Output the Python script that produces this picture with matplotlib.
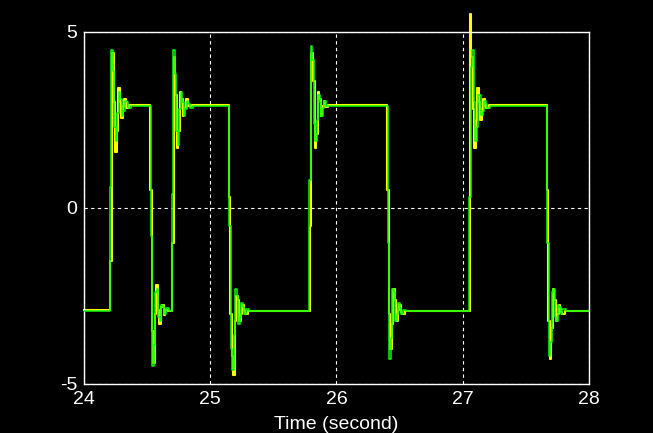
import matplotlib
matplotlib.use("Agg")
import matplotlib.pyplot as plt

plt.rcParams['font.family'] = ['Liberation Sans', 'DejaVu Sans']

# ---- data ----
green_t = [24.000,
           24.205, 24.217, 24.229, 24.241, 24.253, 24.265, 24.277, 24.289, 24.301, 24.313, 24.325, 24.337, 24.349, 24.373,
           24.528, 24.540, 24.552, 24.564, 24.576, 24.588, 24.600, 24.612, 24.624, 24.636, 24.648, 24.672,
           24.695, 24.707, 24.719, 24.731, 24.743, 24.755, 24.767, 24.779, 24.791, 24.803, 24.815, 24.827, 24.839, 24.863,
           25.150, 25.162, 25.174, 25.186, 25.198, 25.210, 25.222, 25.234, 25.246, 25.258, 25.270, 25.282, 25.306,
           25.785, 25.797, 25.809, 25.821, 25.833, 25.845, 25.857, 25.869, 25.881, 25.893, 25.905, 25.917, 25.941,
           26.405, 26.417, 26.429, 26.441, 26.453, 26.465, 26.477, 26.489, 26.501, 26.513, 26.525, 26.549,
           27.050, 27.062, 27.074, 27.086, 27.098, 27.110, 27.122, 27.134, 27.146, 27.158, 27.170, 27.182, 27.194, 27.218,
           27.670, 27.682, 27.694, 27.706, 27.718, 27.730, 27.742, 27.754, 27.766, 27.778, 27.790, 27.814,
           28.000]
green_y = [-2.93,
           0.6, 4.5, 3.9, 2.3, 1.9, 2.7, 3.3, 3.1, 2.6, 2.75, 3.05, 3.0, 2.85, 2.9,
           -0.8, -4.5, -3.9, -2.4, -2.3, -3.1, -3.2, -2.75, -2.8, -3.0, -2.85, -2.93,
           0.4, 4.5, 3.8, 2.2, 1.8, 2.8, 3.3, 3.0, 2.6, 2.8, 3.05, 2.95, 2.85, 2.9,
           -0.5, -4.0, -4.6, -3.6, -2.3, -2.5, -3.3, -3.1, -2.7, -2.8, -3.0, -2.88, -2.93,
           0.8, 4.6, 4.2, 2.4, 1.9, 2.5, 3.2, 3.0, 2.6, 2.85, 3.05, 2.9, 2.9,
           -1.0, -4.3, -3.7, -2.3, -2.4, -3.2, -3.0, -2.7, -2.85, -3.0, -2.9, -2.93,
           0.3, 4.0, 4.5, 3.0, 1.9, 2.3, 3.2, 3.2, 2.65, 2.75, 3.05, 2.95, 2.85, 2.9,
           -1.0, -4.2, -3.8, -2.4, -2.3, -3.1, -3.2, -2.75, -2.8, -3.0, -2.88, -2.93,
           -2.93]

yellow_t = [24.000,
            24.210, 24.222, 24.234, 24.246, 24.258, 24.270, 24.282, 24.294, 24.306, 24.318, 24.330, 24.354,
            24.524, 24.536, 24.548, 24.560, 24.572, 24.584, 24.596, 24.608, 24.620, 24.632, 24.644, 24.668,
            24.700, 24.712, 24.724, 24.736, 24.748, 24.760, 24.772, 24.784, 24.796, 24.808, 24.820, 24.844,
            25.146, 25.158, 25.170, 25.182, 25.194, 25.206, 25.218, 25.230, 25.242, 25.254, 25.266, 25.278, 25.302,
            25.790, 25.802, 25.814, 25.826, 25.838, 25.850, 25.862, 25.874, 25.886, 25.898, 25.910, 25.934,
            26.401, 26.413, 26.425, 26.437, 26.449, 26.461, 26.473, 26.485, 26.497, 26.509, 26.521, 26.545,
            27.055, 27.067, 27.079, 27.091, 27.103, 27.115, 27.127, 27.139, 27.151, 27.163, 27.175, 27.187, 27.211,
            27.666, 27.678, 27.690, 27.702, 27.714, 27.726, 27.738, 27.750, 27.762, 27.774, 27.786, 27.810,
            28.000]
yellow_y = [-2.9,
            -1.5, 4.4, 3.0, 1.6, 2.2, 3.4, 3.0, 2.55, 2.9, 3.1, 2.85, 2.92,
            0.5, -3.5, -4.4, -3.0, -2.2, -2.9, -3.3, -2.8, -2.75, -3.05, -2.9, -2.92,
            -1.0, 4.3, 3.2, 1.7, 2.2, 3.3, 3.1, 2.6, 2.85, 3.1, 2.9, 2.92,
            0.3, -3.0, -4.2, -4.75, -3.2, -2.5, -2.6, -3.2, -3.0, -2.75, -2.9, -3.0, -2.92,
            -0.5, 4.4, 3.6, 1.7, 2.1, 3.3, 3.1, 2.6, 2.9, 3.05, 2.88, 2.92,
            0.5, -3.0, -4.0, -3.3, -2.3, -2.6, -3.2, -2.9, -2.75, -2.95, -3.0, -2.92,
            5.5, 4.3, 2.8, 1.7, 2.5, 3.4, 3.0, 2.5, 2.8, 3.1, 2.9, 2.85, 2.92,
            0.5, -3.2, -4.3, -3.4, -2.3, -2.6, -3.2, -3.0, -2.75, -2.95, -3.0, -2.92,
            -2.92]

x_ticks = [24, 25, 26, 27, 28]
y_ticks = [-5, 0, 5]
x_label = "Time (second)"

# ---- figure ----
fig = plt.figure(figsize=(6.53, 4.33), dpi=100, facecolor='black')
ax = fig.add_axes([0.1286, 0.1132, 0.7734, 0.8129], facecolor='black')

ax.plot(yellow_t, yellow_y, color='#ffff00', lw=1.5, drawstyle='steps-post',
        clip_on=False, zorder=2)
ax.plot(green_t, green_y, color='#00ff00', lw=1.1, drawstyle='steps-post', zorder=3)

ax.set_xlim(24, 28)
ax.set_ylim(-5, 5)
ax.set_xticks(x_ticks)
ax.set_yticks(y_ticks)
ax.set_xticklabels([str(v) for v in x_ticks])
ax.set_yticklabels([str(v) for v in y_ticks])

for s in ax.spines.values():
    s.set_color('white')
    s.set_linewidth(1.0)

ax.tick_params(colors='white', labelsize=14, length=0, pad=5)
ax.grid(True, color='white', linestyle=(0, (3, 3)), linewidth=0.8)
ax.set_axisbelow(True)
ax.set_xlabel(x_label, color='white', fontsize=14, labelpad=6)

fig.savefig('out.png', dpi=100, facecolor='black')
